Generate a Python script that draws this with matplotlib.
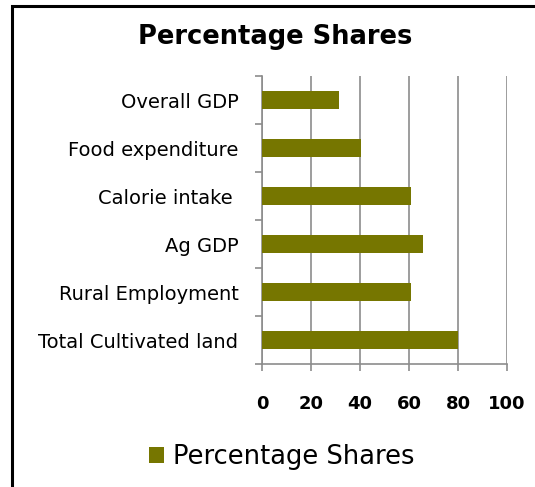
import matplotlib.pyplot as plt
from matplotlib.patches import Rectangle
from matplotlib.ticker import FixedLocator

# Data (top to bottom as shown in the chart)
categories = ["Overall GDP", "Food expenditure", "Calorie intake ", "Ag GDP",
              "Rural Employment", "Total Cultivated land"]
shares = [31.3, 40.3, 60.7, 65.6, 60.7, 80.0]
x_ticks = [0, 20, 40, 60, 80, 100]

bar_color = "#767600"
grid_color = "#8c8c8c"

fig = plt.figure(figsize=(5.35, 4.87), dpi=100)

# outer chart border (left and top visible)
fig.patches.append(Rectangle((11.5 / 535, -0.05), 1.2, (487 - 5.5) / 487 + 0.05,
                             transform=fig.transFigure, fill=False,
                             edgecolor="black", linewidth=2.2))

ax = fig.add_axes([262 / 535, (487 - 364) / 487, 245 / 535, 288 / 487])

pos = list(range(len(categories)))[::-1]
ax.barh(pos, shares, height=0.39, color=bar_color, zorder=3,
        label="Percentage Shares")

ax.set_xlim(0, 100)
ax.set_ylim(-0.5, len(categories) - 0.5)

ax.set_xticks(x_ticks)
ax.set_xticklabels([str(t) for t in x_ticks], fontsize=13, fontweight="bold")
ax.xaxis.grid(True, color=grid_color, linewidth=1.2, zorder=0)

ax.set_yticks(pos)
ax.set_yticklabels(categories, fontsize=14)
ax.yaxis.set_minor_locator(FixedLocator([p - 0.5 for p in range(len(categories) + 1)]))
ax.tick_params(axis="y", which="major", length=0, pad=17)
ax.tick_params(axis="y", which="minor", length=5, color=grid_color, width=1.2)
ax.tick_params(axis="x", length=5, color=grid_color, width=1.2, pad=17)

for side in ["top", "right"]:
    ax.spines[side].set_visible(False)
for side in ["left", "bottom"]:
    ax.spines[side].set_color(grid_color)
    ax.spines[side].set_linewidth(1.2)

fig.text(275 / 535, 1 - 37 / 487, "Percentage Shares", ha="center", va="center",
         fontsize=18.5, fontweight="bold")

fig.legend(loc="center", bbox_to_anchor=(282 / 535, 1 - 457 / 487), frameon=False,
           fontsize=18.5, handlelength=0.6, handleheight=0.6, handletextpad=0.35)

fig.savefig("out.png", dpi=100)
